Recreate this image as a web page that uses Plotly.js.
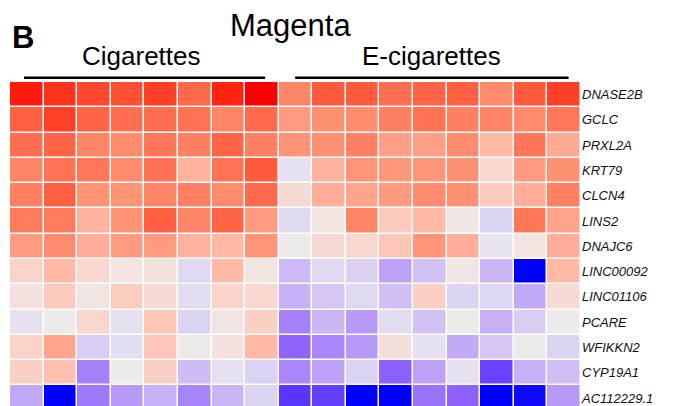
<!DOCTYPE html>
<html>
<head>
<meta charset="utf-8">
<script src="https://cdn.plot.ly/plotly-3.0.1.min.js"></script>
<style>html,body{margin:0;padding:0;background:#fff;}#chart{width:683px;height:406px;}</style>
</head>
<body>
<div id="chart"></div>
<script>
// Gene names (rows, top to bottom)
var genes = ["DNASE2B","GCLC","PRXL2A","KRT79","CLCN4","LINS2","DNAJC6","LINC00092","LINC01106","PCARE","WFIKKN2","CYP19A1","AC112229.1"];
// Sample groups
var groupLabels = ["Cigarettes","E-cigarettes"];
var nCig = 8;
var nEcig = 9;
// Values (relative expression, -1 blue .. +1 red); first 8 = cigarettes, next 9 = e-cigarettes
var DNASE2B   = [0.90,0.82,0.75,0.73,0.78,0.62,0.87,1.00,  0.50,0.70,0.70,0.60,0.65,0.67,0.48,0.70,0.78];
var GCLC      = [0.67,0.78,0.65,0.60,0.60,0.58,0.50,0.62,  0.40,0.45,0.47,0.52,0.58,0.52,0.50,0.48,0.56];
var PRXL2A    = [0.60,0.65,0.50,0.48,0.56,0.52,0.65,0.52,  0.44,0.45,0.52,0.38,0.38,0.47,0.25,0.56,0.33];
var KRT79     = [0.50,0.58,0.56,0.47,0.58,0.28,0.58,0.70, -0.08,0.28,0.43,0.42,0.43,0.45,0.12,0.40,0.45];
var CLCN4     = [0.52,0.67,0.44,0.44,0.50,0.52,0.48,0.62,  0.10,0.30,0.35,0.40,0.47,0.45,0.18,0.30,0.52];
var LINS2     = [0.54,0.54,0.28,0.44,0.67,0.50,0.65,0.40, -0.12,0.05,0.50,0.18,0.25,0.03,-0.15,0.56,0.35];
var DNAJC6    = [0.40,0.47,0.30,0.40,0.40,0.28,0.25,0.43,  0.00,0.10,0.12,0.20,0.43,0.30,-0.04,0.05,0.30];
var LINC00092 = [0.14,0.25,0.12,0.05,0.07,-0.12,0.25,0.05, -0.25,-0.12,-0.16,-0.33,-0.22,0.04,-0.26,-1.00,0.25];
var LINC01106 = [0.07,0.18,0.04,0.17,0.10,-0.10,0.14,0.12, -0.28,-0.20,-0.12,-0.23,0.16,-0.14,-0.13,-0.30,0.10];
var PCARE     = [-0.06,0.00,0.12,-0.07,0.20,-0.15,0.04,0.16, -0.45,-0.26,-0.36,-0.09,-0.21,0.00,-0.28,-0.17,0.00];
var WFIKKN2   = [0.15,0.35,-0.17,-0.09,0.20,0.00,0.06,0.25, -0.55,-0.43,-0.36,0.08,-0.07,-0.30,-0.19,0.00,-0.14];
var CYP19A1   = [0.16,0.22,-0.45,0.00,0.16,-0.24,-0.07,-0.15, -0.43,-0.33,-0.15,-0.57,-0.33,-0.07,-0.72,-0.28,-0.23];
var AC112229  = [-0.31,-1.00,-0.48,-0.36,-0.28,-0.44,-0.26,-0.14, -0.78,-0.74,-1.00,-1.00,-0.50,-0.56,-1.00,-0.97,-0.36];

var z = [DNASE2B,GCLC,PRXL2A,KRT79,CLCN4,LINS2,DNAJC6,LINC00092,LINC01106,PCARE,WFIKKN2,CYP19A1,AC112229];
var nCols = nCig + nEcig;
var xIdx = []; for (var i = 0; i < nCols; i++) xIdx.push(i);
var yIdx = []; for (var j = 0; j < genes.length; j++) yIdx.push(j);

var colorscale = [
  [0.000,"rgb(0,0,255)"],
  [0.075,"rgb(70,40,255)"],
  [0.150,"rgb(110,70,255)"],
  [0.225,"rgb(145,100,252)"],
  [0.275,"rgb(165,130,250)"],
  [0.325,"rgb(185,155,248)"],
  [0.375,"rgb(205,185,245)"],
  [0.425,"rgb(220,210,242)"],
  [0.475,"rgb(232,228,240)"],
  [0.500,"rgb(236,235,234)"],
  [0.525,"rgb(242,228,225)"],
  [0.575,"rgb(250,210,200)"],
  [0.625,"rgb(255,185,165)"],
  [0.675,"rgb(255,165,140)"],
  [0.725,"rgb(255,145,115)"],
  [0.775,"rgb(255,120,90)"],
  [0.850,"rgb(255,90,60)"],
  [0.925,"rgb(255,40,20)"],
  [1.000,"rgb(255,0,0)"]
];

var W = 683, H = 406;
var L = 10, R = 683 - 580.7, T = 82, B = 0;
var pw = W - L - R, ph = H - T - B;
function px2x(p){ return (p - L) / pw; }
function py2y(p){ return (H - B - p) / ph; }
var rowH = 25.28;
var yBottom = -0.5 + ph / rowH;

var trace = {
  type: "heatmap",
  x: xIdx, y: yIdx, z: z,
  zmin: -1, zmax: 1,
  colorscale: colorscale,
  showscale: false,
  xgap: 1.5, ygap: 1.5,
  hoverinfo: "none"
};

var ticktext = genes.map(function(g){ return "<i>" + g + "</i>"; });
var font = "Liberation Sans, Arial, sans-serif";

var layout = {
  width: W, height: H,
  margin: {l: L, r: R, t: T, b: B, pad: 0},
  paper_bgcolor: "#ffffff", plot_bgcolor: "#ffffff",
  xaxis: {range: [-0.5, nCols - 0.5], showgrid: false, zeroline: false, showticklabels: false, ticks: "", showline: false, fixedrange: true},
  yaxis: {range: [yBottom, -0.5], side: "right", tickvals: yIdx, ticktext: ticktext, ticks: "", showgrid: false, zeroline: false, showline: false,
          tickfont: {family: font, size: 13, color: "#111"}, fixedrange: true},
  annotations: [
    {text: "Magenta", xref: "paper", yref: "paper", x: px2x(290), y: py2y(25), xanchor: "center", yanchor: "middle", showarrow: false,
     font: {family: font, size: 31, color: "#000"}},
    {text: "<b>B</b>", xref: "paper", yref: "paper", x: px2x(10), y: py2y(37), xanchor: "left", yanchor: "middle", showarrow: false,
     font: {family: font, size: 31, color: "#000"}},
    {text: groupLabels[0], xref: "paper", yref: "paper", x: px2x(141.5), y: py2y(56), xanchor: "center", yanchor: "middle", showarrow: false,
     font: {family: font, size: 26, color: "#000"}},
    {text: groupLabels[1], xref: "paper", yref: "paper", x: px2x(431.7), y: py2y(56), xanchor: "center", yanchor: "middle", showarrow: false,
     font: {family: font, size: 26, color: "#000"}}
  ],
  shapes: [
    {type: "line", xref: "paper", yref: "paper", x0: px2x(24), x1: px2x(265), y0: py2y(77.8), y1: py2y(77.8), line: {color: "#000", width: 2.5}},
    {type: "line", xref: "paper", yref: "paper", x0: px2x(295), x1: px2x(568.3), y0: py2y(77.8), y1: py2y(77.8), line: {color: "#000", width: 2.5}}
  ]
};

Plotly.newPlot("chart", [trace], layout, {displayModeBar: false, staticPlot: true});
</script>
</body>
</html>
